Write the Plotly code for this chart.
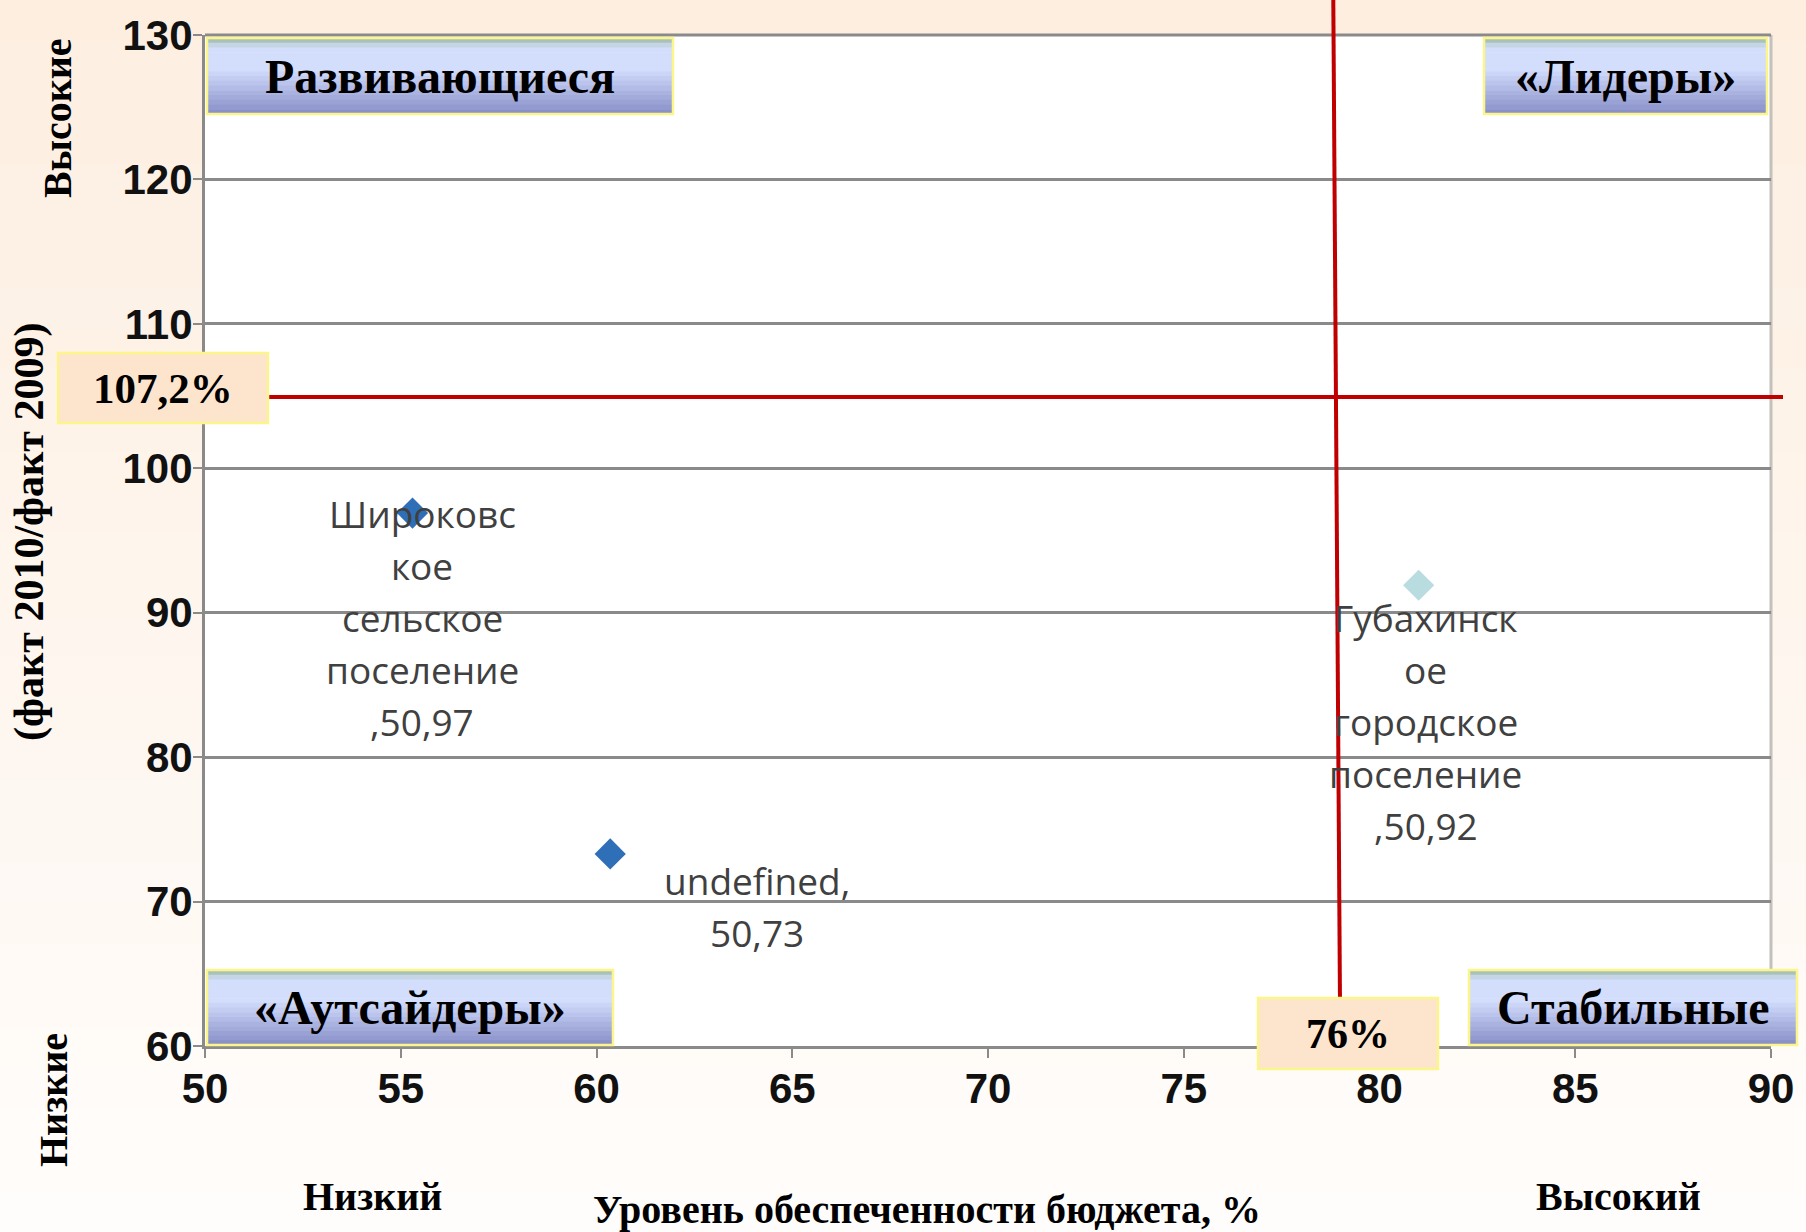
import plotly.graph_objects as go

# ---------------- data ----------------
point_names = ["Широковское сельское поселение", "undefined", "Губахинское городское поселение"]
point_labels = ["Широковс<br>кое<br>сельское<br>поселение<br>,50,97",
                "undefined,<br>50,73",
                "Губахинск<br>ое<br>городское<br>поселение<br>,50,92"]
budget_level = [55.3, 60.35, 81.0]        # x, %
growth_ratio = [96.9, 73.3, 91.9]         # y, факт 2010/факт 2009
point_colors = ["#2e6fb8", "#2e6fb8", "#b9dce0"]

x_ticks = [50, 55, 60, 65, 70, 75, 80, 85, 90]
y_ticks = [60, 70, 80, 90, 100, 110, 120, 130]

threshold_x_label = "76%"
threshold_y_label = "107,2%"
threshold_x_top = 78.82
threshold_x_bottom = 78.99
threshold_y = 104.94

quadrants = ["Развивающиеся", "«Лидеры»", "«Аутсайдеры»", "Стабильные"]

# ---------------- layout geometry ----------------
W, H = 1806, 1232
L, R, T, B = 205, 1771, 35, 1046


def px(x):
    return (x - L) / (R - L)


def py(y):
    return (B - y) / (B - T)


def hexmix(c1, c2, t):
    a = [int(c1[i:i + 2], 16) for i in (1, 3, 5)]
    b = [int(c2[i:i + 2], 16) for i in (1, 3, 5)]
    return "#%02x%02x%02x" % tuple(round(a[k] + (b[k] - a[k]) * t) for k in range(3))


shapes = []
annotations = []

# page background gradient
nb = 30
for i in range(nb):
    y0 = i * H / nb
    y1 = (i + 1) * H / nb + 1
    shapes.append(dict(type="rect", xref="paper", yref="paper",
                       x0=px(0), x1=px(W), y0=py(y1), y1=py(y0),
                       fillcolor=hexmix("#fdeee0", "#fffdfb", i / (nb - 1)),
                       line=dict(width=0), layer="below"))
# white plot area
shapes.append(dict(type="rect", xref="paper", yref="paper", x0=0, x1=1, y0=0, y1=1,
                   fillcolor="white", line=dict(width=0), layer="below"))
# right & top border
shapes.append(dict(type="line", xref="paper", yref="paper", x0=1, x1=1, y0=0, y1=1,
                   line=dict(color="#c4c0bc", width=3), layer="below"))
shapes.append(dict(type="line", xref="paper", yref="paper", x0=0, x1=1, y0=1, y1=1,
                   line=dict(color="#8a8a8a", width=3), layer="below"))


def grad_box(x0, y0, x1, y1, text, fsize):
    n = 16
    for i in range(n):
        t = i / (n - 1)
        if t < 0.1:
            c = hexmix("#a9c2b8", "#d3defd", t / 0.1)
        elif t < 0.4:
            c = "#d3defd"
        else:
            c = hexmix("#d3defd", "#8a91c9", (t - 0.4) / 0.6)
        ya = y0 + (y1 - y0) * i / n
        yb = y0 + (y1 - y0) * (i + 1) / n + 0.6
        shapes.append(dict(type="rect", xref="paper", yref="paper",
                           x0=px(x0), x1=px(x1), y0=py(min(yb, y1)), y1=py(ya),
                           fillcolor=c, line=dict(width=0), layer="above"))
    shapes.append(dict(type="rect", xref="paper", yref="paper",
                       x0=px(x0), x1=px(x1), y0=py(y1), y1=py(y0),
                       fillcolor="rgba(0,0,0,0)", line=dict(color="#fbf58c", width=2.5),
                       layer="above"))
    annotations.append(dict(xref="paper", yref="paper", x=px((x0 + x1) / 2), y=py((y0 + y1) / 2),
                            text=text, showarrow=False, xanchor="center", yanchor="middle",
                            font=dict(family="Liberation Serif", size=fsize, color="black",
                                      weight="bold")))


def peach_box(x0, y0, x1, y1, text, fsize):
    shapes.append(dict(type="rect", xref="paper", yref="paper",
                       x0=px(x0), x1=px(x1), y0=py(y1), y1=py(y0),
                       fillcolor="#fde5cd", line=dict(color="#fbf58c", width=2.5),
                       layer="above"))
    annotations.append(dict(xref="paper", yref="paper", x=px((x0 + x1) / 2), y=py((y0 + y1) / 2),
                            text=text, showarrow=False, xanchor="center", yanchor="middle",
                            font=dict(family="Liberation Serif", size=fsize, color="black",
                                      weight="bold")))


# threshold lines
shapes.append(dict(type="line", xref="x", yref="paper",
                   x0=threshold_x_top, y0=py(0), x1=threshold_x_bottom, y1=py(998),
                   line=dict(color="#c00000", width=4), layer="above"))
shapes.append(dict(type="line", xref="paper", yref="y",
                   x0=px(268), x1=px(1783), y0=threshold_y, y1=threshold_y,
                   line=dict(color="#c00000", width=4), layer="above"))

grad_box(207, 38, 673, 114, quadrants[0], 48)
grad_box(1484, 38, 1767, 114, quadrants[1], 48)
grad_box(207, 970, 613, 1045, quadrants[2], 48)
grad_box(1469, 970, 1797, 1045, quadrants[3], 48)
peach_box(58, 353, 268, 423, threshold_y_label, 43)
peach_box(1258, 998, 1438, 1069, threshold_x_label, 42)

# data labels: one annotation per line so that the line spacing matches
line_gap = 52
label_xshift = [10, 147, 7]
label_first_line = [0, 27, 32]   # px below the marker centre of the first line centre
for xv, yv, lab, xs, y1st in zip(budget_level, growth_ratio, point_labels, label_xshift,
                                 label_first_line):
    for k, line in enumerate(lab.split("<br>")):
        annotations.append(dict(x=xv, y=yv, xref="x", yref="y", text=line, showarrow=False,
                                xanchor="center", yanchor="middle", align="center",
                                xshift=xs, yshift=-(y1st + k * line_gap),
                                font=dict(family="Open Sans", size=37, color="#404040")))

# axis titles (outside text)
serif_b = dict(family="Liberation Serif", size=40, color="black", weight="bold")
annotations += [
    dict(xref="paper", yref="paper", x=px(58), y=py(118), text="Высокие", textangle=-90,
         showarrow=False, xanchor="center", yanchor="middle", font=serif_b),
    dict(xref="paper", yref="paper", x=px(29), y=py(532), text="(факт 2010/факт 2009)",
         textangle=-90, showarrow=False, xanchor="center", yanchor="middle",
         font=dict(serif_b, size=42)),
    dict(xref="paper", yref="paper", x=px(53), y=py(1100), text="Низкие", textangle=-90,
         showarrow=False, xanchor="center", yanchor="middle", font=serif_b),
    dict(xref="paper", yref="paper", x=px(372), y=py(1196), text="Низкий",
         showarrow=False, xanchor="center", yanchor="middle", font=serif_b),
    dict(xref="paper", yref="paper", x=px(927), y=py(1209),
         text="Уровень обеспеченности бюджета, %",
         showarrow=False, xanchor="center", yanchor="middle", font=serif_b),
    dict(xref="paper", yref="paper", x=px(1618), y=py(1196), text="Высокий",
         showarrow=False, xanchor="center", yanchor="middle", font=serif_b),
]

fig = go.Figure()
fig.add_trace(go.Scatter(
    x=budget_level, y=growth_ratio, mode="markers", name="",
    text=point_names,
    marker=dict(symbol="diamond", size=24, color=point_colors, line=dict(width=0)),
    showlegend=False, cliponaxis=False))

tickfont = dict(family="Liberation Sans", size=42, color="#111111", weight="bold")
fig.update_layout(
    width=W, height=H, autosize=False,
    margin=dict(l=L, r=W - R, t=T, b=H - B, pad=0),
    paper_bgcolor="#fef6ee", plot_bgcolor="rgba(0,0,0,0)",
    shapes=shapes, annotations=annotations, showlegend=False,
    xaxis=dict(range=[50, 90], tickvals=x_ticks, ticktext=[str(v) for v in x_ticks],
               showgrid=False, zeroline=False, showline=True, linecolor="#8a8a8a", linewidth=3,
               ticks="outside", ticklen=9, tickwidth=2, tickcolor="#8a8a8a",
               tickfont=tickfont, ticklabelstandoff=-5),
    yaxis=dict(range=[60, 130], tickvals=y_ticks, ticktext=[str(v) for v in y_ticks],
               showgrid=True, gridcolor="#8a8a8a", gridwidth=2.5,
               zeroline=False, showline=True, linecolor="#8a8a8a", linewidth=3,
               ticks="outside", ticklen=9, tickwidth=2, tickcolor="#8a8a8a",
               tickfont=tickfont, ticklabelstandoff=-8),
)

fig.write_html("out.html", config={"displayModeBar": False},
               post_script="document.body.style.margin='0';"
                           "document.body.style.background='#fffdfb';")
